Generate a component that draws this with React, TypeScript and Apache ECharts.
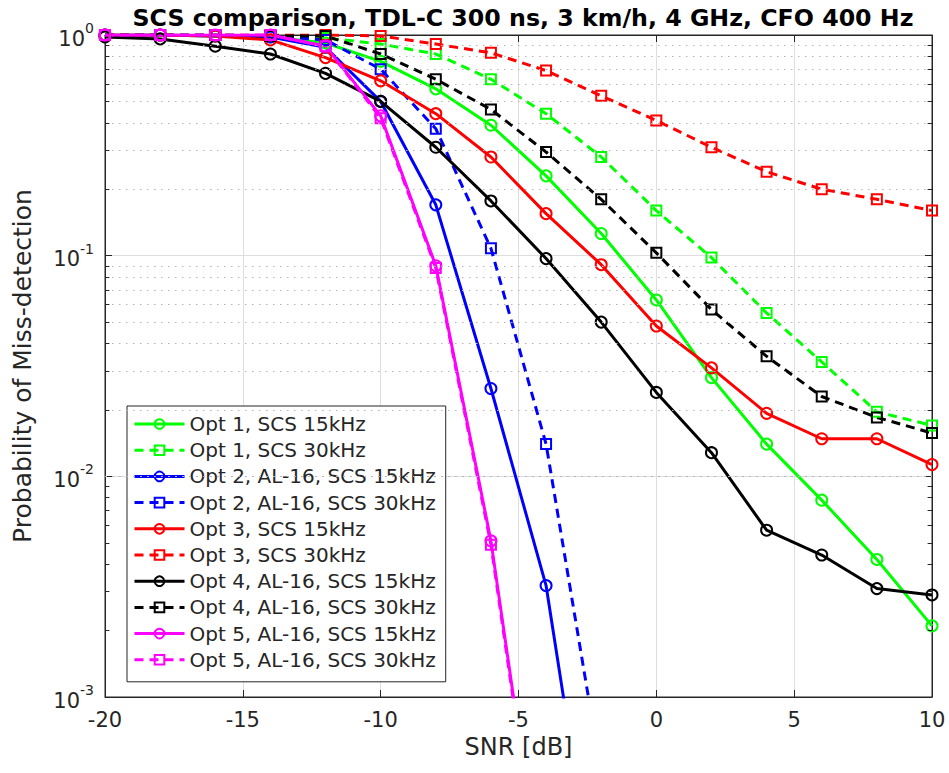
import React, { useEffect, useRef } from "react";
import * as echarts from "echarts";

const SNR = [-20, -18, -16, -14, -12, -10, -8, -6, -4, -2, 0, 2, 4, 6, 8, 10];

const OPT1_15 = [1, 1, 0.99, 0.98, 0.92, 0.76, 0.57, 0.39, 0.23, 0.126, 0.063, 0.028, 0.014, 0.0078, 0.0042, 0.0021];
const OPT1_30 = [1, 1, 1, 0.99, 0.97, 0.91, 0.82, 0.63, 0.44, 0.28, 0.16, 0.098, 0.055, 0.033, 0.0196, 0.017];
const OPT2_15 = [1, 1, 0.99, 0.98, 0.88, 0.5, 0.17, 0.025, 0.0032, 0.00008, null, null, null, null, null, null];
const OPT2_30 = [1, 1, 1, 0.99, 0.95, 0.7, 0.376, 0.108, 0.014, 0.00045, null, null, null, null, null, null];
const OPT3_15 = [1, 1, 0.99, 0.95, 0.79, 0.62, 0.44, 0.28, 0.155, 0.091, 0.048, 0.031, 0.0193, 0.0148, 0.0148, 0.0113];
const OPT3_30 = [1, 1, 1, 1, 1, 0.99, 0.91, 0.83, 0.69, 0.53, 0.41, 0.31, 0.24, 0.2, 0.18, 0.16];
const OPT4_15 = [0.98, 0.96, 0.89, 0.82, 0.67, 0.5, 0.31, 0.177, 0.097, 0.05, 0.024, 0.0128, 0.0057, 0.0044, 0.0031, 0.0029];
const OPT4_30 = [1, 1, 1, 0.99, 0.99, 0.82, 0.63, 0.46, 0.295, 0.18, 0.103, 0.057, 0.035, 0.023, 0.0185, 0.0157];
const OPT5_15 = [1, 1, 1, 1, 0.89, 0.43, 0.09, 0.0051, 0.000095, null, null, null, null, null, null, null];
const OPT5_30 = [1, 1, 1, 1, 0.89, 0.42, 0.088, 0.0049, 0.00009, null, null, null, null, null, null, null];

const NAMES = [
  "Opt 1, SCS 15kHz",
  "Opt 1, SCS 30kHz",
  "Opt 2, AL-16, SCS 15kHz",
  "Opt 2, AL-16, SCS 30kHz",
  "Opt 3, SCS 15kHz",
  "Opt 3, SCS 30kHz",
  "Opt 4, AL-16, SCS 15kHz",
  "Opt 4, AL-16, SCS 30kHz",
  "Opt 5, AL-16, SCS 15kHz",
  "Opt 5, AL-16, SCS 30kHz",
];
const VALUES = [OPT1_15, OPT1_30, OPT2_15, OPT2_30, OPT3_15, OPT3_30, OPT4_15, OPT4_30, OPT5_15, OPT5_30];
const COLORS = ["#00ff00", "#00ff00", "#0000ff", "#0000ff", "#ff0000", "#ff0000", "#000000", "#000000", "#ff00ff", "#ff00ff"];
const DASHED = [false, true, false, true, false, true, false, true, false, true];

const X_MIN = -20;
const X_MAX = 10;
const Y_MIN = 0.001;
const Y_MAX = 1;
const MINOR_Y: number[] = [];
[0.001, 0.01, 0.1].forEach((d) => {
  for (let k = 2; k <= 9; k++) MINOR_Y.push(+(d * k).toPrecision(3));
});

const FONT = "DejaVu Sans";
const AXIS_COLOR = "#262626";

export default function App() {
  const ref = useRef<HTMLDivElement>(null);
  useEffect(() => {
    if (!ref.current) return;
    const chart = echarts.init(ref.current, null, { renderer: "svg" });

    const dataSeries = NAMES.map((name, i) => ({
      name,
      type: "line",
      data: SNR.map((x, j) => [x, VALUES[i][j]]).filter((p) => p[1] !== null),
      symbol: DASHED[i] ? "rect" : "circle",
      symbolSize: DASHED[i] ? 10 : 11,
      showSymbol: true,
      clip: true,
      z: 3,
      lineStyle: {
        color: COLORS[i],
        width: 3,
        type: DASHED[i] ? [9, 6] : "solid",
      },
      itemStyle: {
        color: "rgba(0,0,0,0)",
        borderColor: COLORS[i],
        borderWidth: 2,
      },
      emphasis: { disabled: true },
    }));

    const minorGrid = MINOR_Y.map((v) => ({ yAxis: v }));
    const minorTicksLeft = MINOR_Y.map((v) => [
      { coord: [X_MIN, v] },
      { coord: [X_MIN + 0.16, v] },
    ]);
    const minorTicksRight = MINOR_Y.map((v) => [
      { coord: [X_MAX - 0.16, v] },
      { coord: [X_MAX, v] },
    ]);

    const helper = {
      name: "__grid",
      type: "line",
      data: [],
      z: 1,
      silent: true,
      markLine: {
        silent: true,
        symbol: ["none", "none"],
        label: { show: false },
        animation: false,
        lineStyle: { color: "#b4b4b4", width: 1, type: [1.5, 5.5] },
        data: minorGrid,
      },
    };
    const helperTicks = {
      name: "__ticks",
      type: "line",
      data: [],
      z: 2,
      silent: true,
      markLine: {
        silent: true,
        symbol: ["none", "none"],
        label: { show: false },
        animation: false,
        lineStyle: { color: AXIS_COLOR, width: 1, type: "solid" },
        data: [...minorTicksLeft, ...minorTicksRight],
      },
    };

    const yLabelFormatter = (v: number) => {
      const e = Math.round(Math.log10(v));
      return `{b|10}{s|${e}}`;
    };

    chart.setOption({
      animation: false,
      backgroundColor: "#ffffff",
      title: {
        text: "SCS comparison, TDL-C 300 ns, 3 km/h, 4 GHz, CFO 400 Hz",
        left: 518,
        textAlign: "center",
        top: 1,
        textStyle: { fontFamily: FONT, fontSize: 23.7, fontWeight: "bold", color: "#000" },
      },
      grid: {
        left: 105,
        top: 35,
        width: 827,
        height: 662,
        show: true,
        borderColor: AXIS_COLOR,
        borderWidth: 1,
        backgroundColor: "#fff",
      },
      legend: {
        data: NAMES,
        orient: "vertical",
        left: 127,
        top: 406,
        padding: [8, 10, 12, 6],
        itemGap: 6.2,
        itemWidth: 50,
        itemHeight: 12,
        selectedMode: false,
        backgroundColor: "#fff",
        borderColor: AXIS_COLOR,
        borderWidth: 1,
        lineStyle: { width: 3 },
        textStyle: { fontFamily: FONT, fontSize: 20, color: AXIS_COLOR, lineHeight: 20 },
      },
      xAxis: [
        {
          type: "value",
          min: X_MIN,
          max: X_MAX,
          interval: 5,
          name: "SNR [dB]",
          nameLocation: "middle",
          nameGap: 36,
          nameTextStyle: { fontFamily: FONT, fontSize: 24, color: AXIS_COLOR },
          axisLine: { show: true, onZero: false, lineStyle: { color: AXIS_COLOR } },
          axisTick: { show: true, inside: true, length: 7, lineStyle: { color: AXIS_COLOR } },
          axisLabel: { fontFamily: FONT, fontSize: 21, color: AXIS_COLOR, margin: 12 },
          splitLine: { show: true, lineStyle: { color: "#dedede", width: 1 } },
        },
        {
          type: "value",
          position: "top",
          min: X_MIN,
          max: X_MAX,
          interval: 5,
          axisLine: { show: true, onZero: false, lineStyle: { color: AXIS_COLOR } },
          axisTick: { show: true, inside: true, length: 7, lineStyle: { color: AXIS_COLOR } },
          axisLabel: { show: false },
          splitLine: { show: false },
        },
      ],
      yAxis: [
        {
          type: "log",
          logBase: 10,
          min: Y_MIN,
          max: Y_MAX,
          name: "Probability of Miss-detection",
          nameLocation: "middle",
          nameGap: 70,
          nameTextStyle: { fontFamily: FONT, fontSize: 25, color: AXIS_COLOR },
          axisLine: { show: true, onZero: false, lineStyle: { color: AXIS_COLOR } },
          axisTick: { show: true, inside: true, length: 7, lineStyle: { color: AXIS_COLOR } },
          axisLabel: {
            fontFamily: FONT,
            color: AXIS_COLOR,
            margin: 11,
            formatter: yLabelFormatter,
            rich: {
              b: { fontFamily: FONT, fontSize: 21, color: AXIS_COLOR, padding: [7, 0, 0, 0] },
              s: { fontFamily: FONT, fontSize: 14, color: AXIS_COLOR, verticalAlign: "top" },
            },
          },
          splitLine: { show: true, lineStyle: { color: "#dedede", width: 1 } },
        },
        {
          type: "log",
          logBase: 10,
          min: Y_MIN,
          max: Y_MAX,
          position: "right",
          axisLine: { show: true, onZero: false, lineStyle: { color: AXIS_COLOR } },
          axisTick: { show: true, inside: true, length: 7, lineStyle: { color: AXIS_COLOR } },
          axisLabel: { show: false },
          splitLine: { show: false },
        },
      ],
      series: [helper, helperTicks, ...dataSeries],
    });

    return () => chart.dispose();
  }, []);

  return <div ref={ref} style={{ width: 949, height: 773, position: "absolute", left: 0, top: 0 }} />;
}
